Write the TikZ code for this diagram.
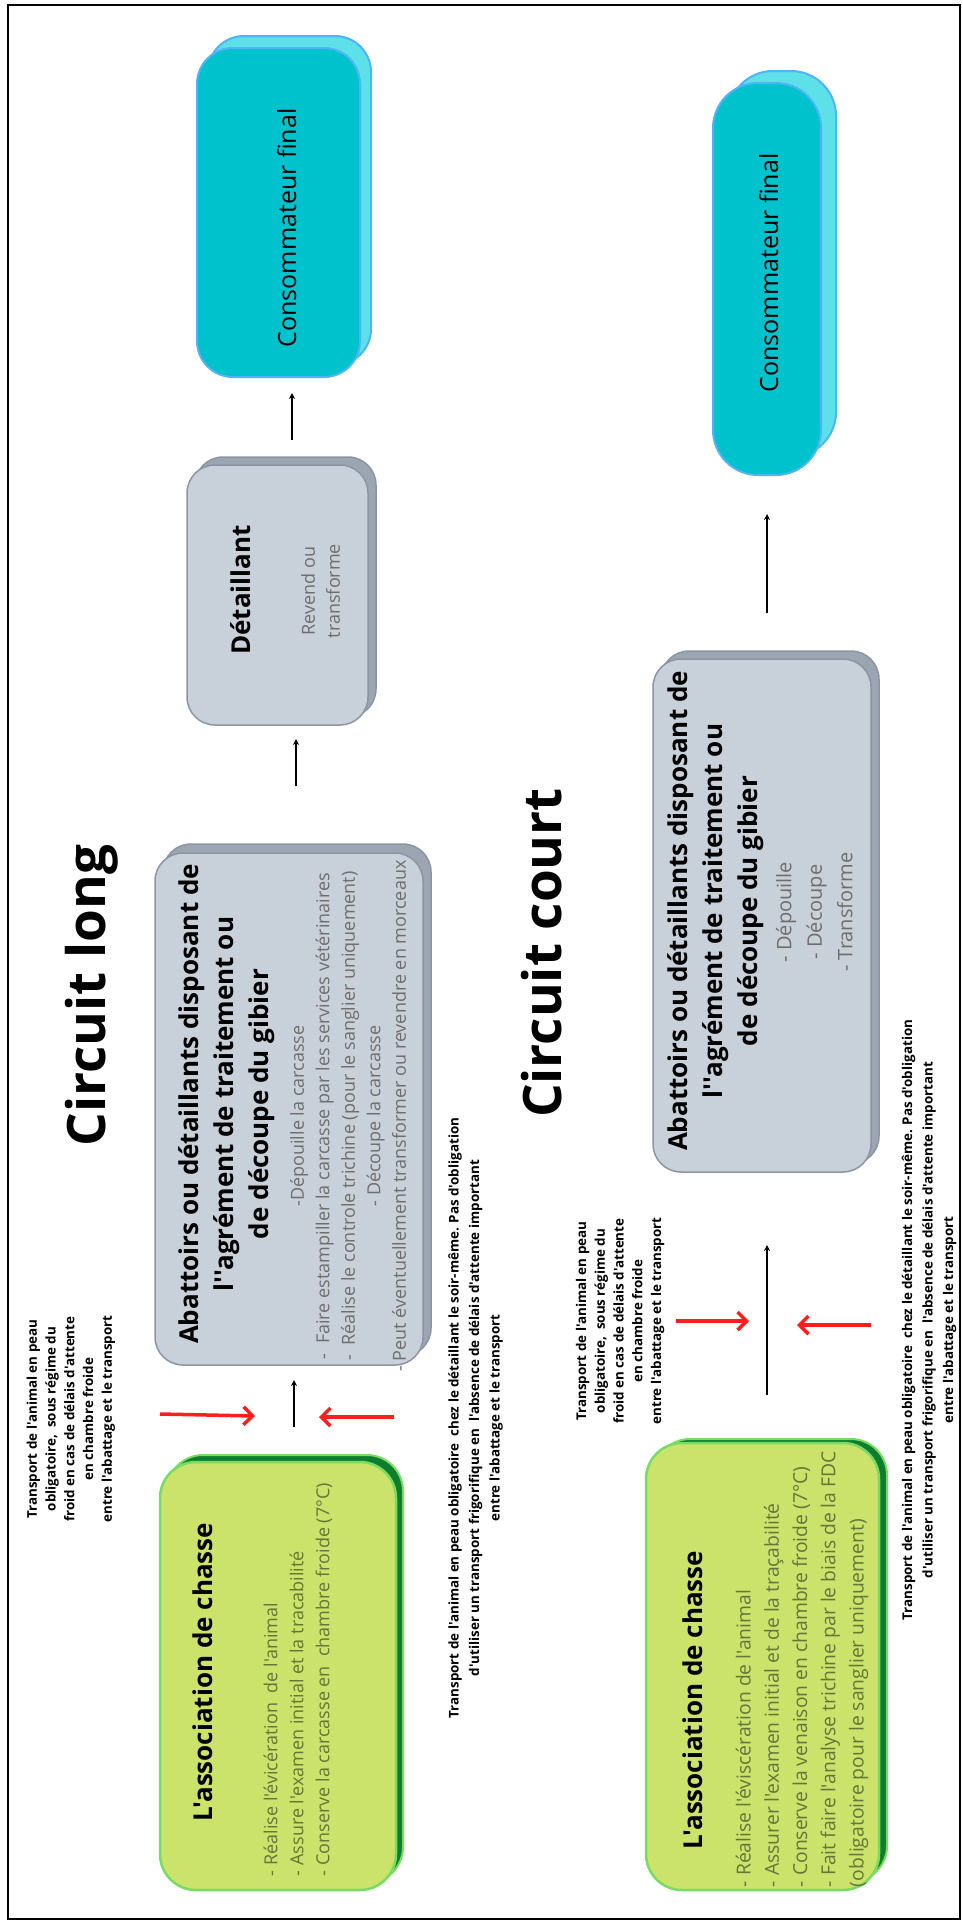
\documentclass[tikz,border=0pt]{standalone}
\usepackage{fontspec}
\setmainfont{Open Sans}[Ligatures=TeXOff]
\usetikzlibrary{arrows.meta}
\definecolor{cyanfront}{HTML}{00C2CC}
\definecolor{cyanback}{HTML}{5DE0E7}
\definecolor{cyanedge}{HTML}{4DB4F5}
\definecolor{grayfront}{HTML}{C8D0D9}
\definecolor{grayback}{HTML}{9BA6B2}
\definecolor{grayedge}{HTML}{8B96A2}
\definecolor{greenfront}{HTML}{CBE26B}
\definecolor{greenback}{HTML}{0E7D2E}
\definecolor{greenedge}{HTML}{78DC62}
\definecolor{bodygray}{HTML}{6E6E6E}
\definecolor{bodyolive}{HTML}{66753A}
\definecolor{redarrow}{HTML}{FF1E1E}
\begin{document}
\begin{tikzpicture}[x=1pt, y=-1pt, every node/.style = {inner sep=0pt, outer sep=0pt},
      cyanback/.style = {draw=cyanedge, fill=cyanback, line width=2pt},
      cyanfront/.style = {draw=cyanedge, fill=cyanfront, line width=2pt},
      grayback/.style = {draw=grayedge, fill=grayback, line width=1.5pt, rounded corners=28pt},
      grayfront/.style = {draw=grayedge, fill=grayfront, line width=1.5pt, rounded corners=28pt},
      greenback/.style = {draw=greenedge, fill=greenback, line width=2pt, rounded corners=36pt},
      greenfront/.style = {draw=greenedge, fill=greenfront, line width=2.5pt, rounded corners=36pt},
      txt/.style = {rotate=90, align=center},
      title/.style = {txt, anchor=base, font=\bfseries\fontsize{53}{60}\selectfont},
      head/.style = {txt, font=\bfseries\fontsize{26}{35}\selectfont},
      note/.style = {txt, font=\bfseries\fontsize{13.4}{18.75}\selectfont},
      flow/.style = {-{Stealth[length=6pt, width=6pt]}, line width=1.5pt},
      redflow/.style = {-{Straight Barb[length=9pt, width=18pt]}, line width=3.5pt, draw=redarrow}]
  \useasboundingbox (0,0) rectangle (962,1923);
  \draw[line width=1.5pt] (8,5) rectangle (960,1919);

  % circuit long
  \node[title] (titreL) at (105.5,995.5) {Circuit long};
  \node[cyanback, rounded corners=36pt, minimum width=163pt, minimum height=329pt] (consLb) at (289.5,200.5) {};
  \node[cyanfront, rounded corners=36pt, minimum width=163pt, minimum height=329pt] (consL) at (278.5,212.5) {};
  \node[txt, anchor=base, font=\fontsize{25}{30}\selectfont] (consLt) at (296,228) {Consommateur final};
  \node[grayback, minimum width=181pt, minimum height=260pt] (detb) at (285.5,587) {};
  \node[grayfront, minimum width=181pt, minimum height=260pt] (det) at (277.5,595) {};
  \node[txt, anchor=base, font=\bfseries\fontsize{26}{30}\selectfont] (dett) at (250,590) {Détaillant};
  \node[txt, text=bodygray, font=\fontsize{18}{25}\selectfont] (detc) at (320.5,591) {Revend ou\\transforme};
  \node[grayback, minimum width=268pt, minimum height=512pt] (abatLb) at (297,1100) {};
  \node[grayfront, minimum width=268pt, minimum height=512pt] (abatL) at (289,1109) {};
  \node[head] (abatLt) at (226.8,1104) {Abattoirs ou détaillants disposant de\\l'{}'agrément de traitement ou\\de découpe du gibier};
  \node[txt, text=bodygray, font=\fontsize{18}{25.5}\selectfont] (abatLc) at (348,1116)
    {-Dépouille la carcasse\\-~ Faire estampiller la carcasse par les services vétérinaires\\-~ Réalise le controle trichine (pour le sanglier uniquement)\\- Découpe la carcasse\\- Peut éventuellement transformer ou revendre en morceaux};
  \node[greenback, minimum width=236pt, minimum height=428pt] (assoLb) at (285,1669) {};
  \node[greenfront, minimum width=236pt, minimum height=428pt] (assoL) at (278,1676) {};
  \node[txt, anchor=base, font=\bfseries\fontsize{26}{30}\selectfont] (assoLt) at (212.5,1672) {L'association de chasse};
  \node[txt, align=left, anchor=west, text=bodyolive, font=\fontsize{18}{26}\selectfont] (assoLc) at (298,1876)
    {- Réalise l'évicération~ de l'animal\\- Assure l'examen initial et la tracabilité\\- Conserve la carcasse en~ chambre froide (7°C)};
  \node[note] (noteLa) at (70.9,1419) {Transport de l'animal en peau\\obligatoire,~ sous régime du\\froid en cas de délais d'attente\\en chambre froide\\entre l'abattage et le transport};
  \node[note, font=\bfseries\fontsize{13.4}{20.5}\selectfont] (noteLb) at (475.5,1418) {Transport de l'animal en peau obligatoire~ chez le détaillant le soir-même. Pas d'obligation\\d'utiliser un transport frigorifique en~ l'absence de délais d'attente important\\entre l'abattage et le transport};

  \coordinate (l1a) at (292,440);
  \coordinate (l1b) at (292,393);
  \coordinate (l2a) at (296,786);
  \coordinate (l2b) at (296,739);
  \coordinate (l3a) at (294,1427);
  \coordinate (l3b) at (294,1380);
  \coordinate (rLa) at (160,1414);
  \coordinate (rLb) at (255,1416);
  \coordinate (rLc) at (394,1417);
  \coordinate (rLd) at (319,1417);
  \draw[flow] (l1a) -- (l1b);
  \draw[flow] (l2a) -- (l2b);
  \draw[flow] (l3a) -- (l3b);
  \draw[redflow] (rLa) -- (rLb);
  \draw[redflow] (rLc) -- (rLd);

  % circuit court
  \node[title] (titreC) at (561,953) {Circuit court};
  \node[cyanback, rounded corners=45pt, minimum width=108pt, minimum height=386pt] (consCb) at (782,264) {};
  \node[cyanfront, rounded corners=45pt, minimum width=108pt, minimum height=392pt] (consC) at (767,279) {};
  \node[txt, anchor=base, font=\fontsize{25}{30}\selectfont] (consCt) at (778,273) {Consommateur final};
  \node[grayback, minimum width=218pt, minimum height=513pt] (abatCb) at (770,907.5) {};
  \node[grayfront, minimum width=218pt, minimum height=513pt] (abatC) at (762,915.5) {};
  \node[head] (abatCt) at (715.8,911) {Abattoirs ou détaillants disposant de\\l'{}'agrément de traitement ou\\de découpe du gibier};
  \node[txt, text=bodygray, font=\fontsize{20}{30.5}\selectfont] (abatCc) at (814.4,912) {- Dépouille\\- Découpe\\- Transforme};
  \node[greenback, minimum width=233pt, minimum height=443pt] (assoCb) at (770.5,1660.5) {};
  \node[greenfront, minimum width=233pt, minimum height=447pt] (assoC) at (762.5,1666.5) {};
  \node[txt, anchor=base, font=\bfseries\fontsize{26}{30}\selectfont] (assoCt) at (702.5,1700) {L'association de chasse};
  \node[txt, align=left, anchor=west, text=bodyolive, font=\fontsize{19.3}{28.25}\selectfont] (assoCc) at (802,1887)
    {- Réalise l'éviscération de l'animal\\- Assurer l'examen initial et de la traçabilité\\- Conserve la venaison en chambre froide (7°C)\\- Fait faire l'analyse trichine par le biais de la FDC\\(obligatoire pour le sanglier uniquement)};
  \node[note] (noteCa) at (620.2,1321) {Transport de l'animal en peau\\obligatoire,~ sous régime du\\froid en cas de délais d'attente\\en chambre froide\\entre l'abattage et le transport};
  \node[note, font=\bfseries\fontsize{13.4}{20.5}\selectfont] (noteCb) at (929,1320) {Transport de l'animal en peau obligatoire~ chez le détaillant le soir-même. Pas d'obligation\\d'utiliser un transport frigorifique en~ l'absence de délais d'attente important\\entre l'abattage et le transport};

  \coordinate (c1a) at (767,613);
  \coordinate (c1b) at (767,514);
  \coordinate (c2a) at (767,1395);
  \coordinate (c2b) at (767,1245);
  \coordinate (rCa) at (676,1321);
  \coordinate (rCb) at (749,1321);
  \coordinate (rCc) at (871,1325);
  \coordinate (rCd) at (797,1325);
  \draw[flow] (c1a) -- (c1b);
  \draw[flow] (c2a) -- (c2b);
  \draw[redflow] (rCa) -- (rCb);
  \draw[redflow] (rCc) -- (rCd);
\end{tikzpicture}
\end{document}
